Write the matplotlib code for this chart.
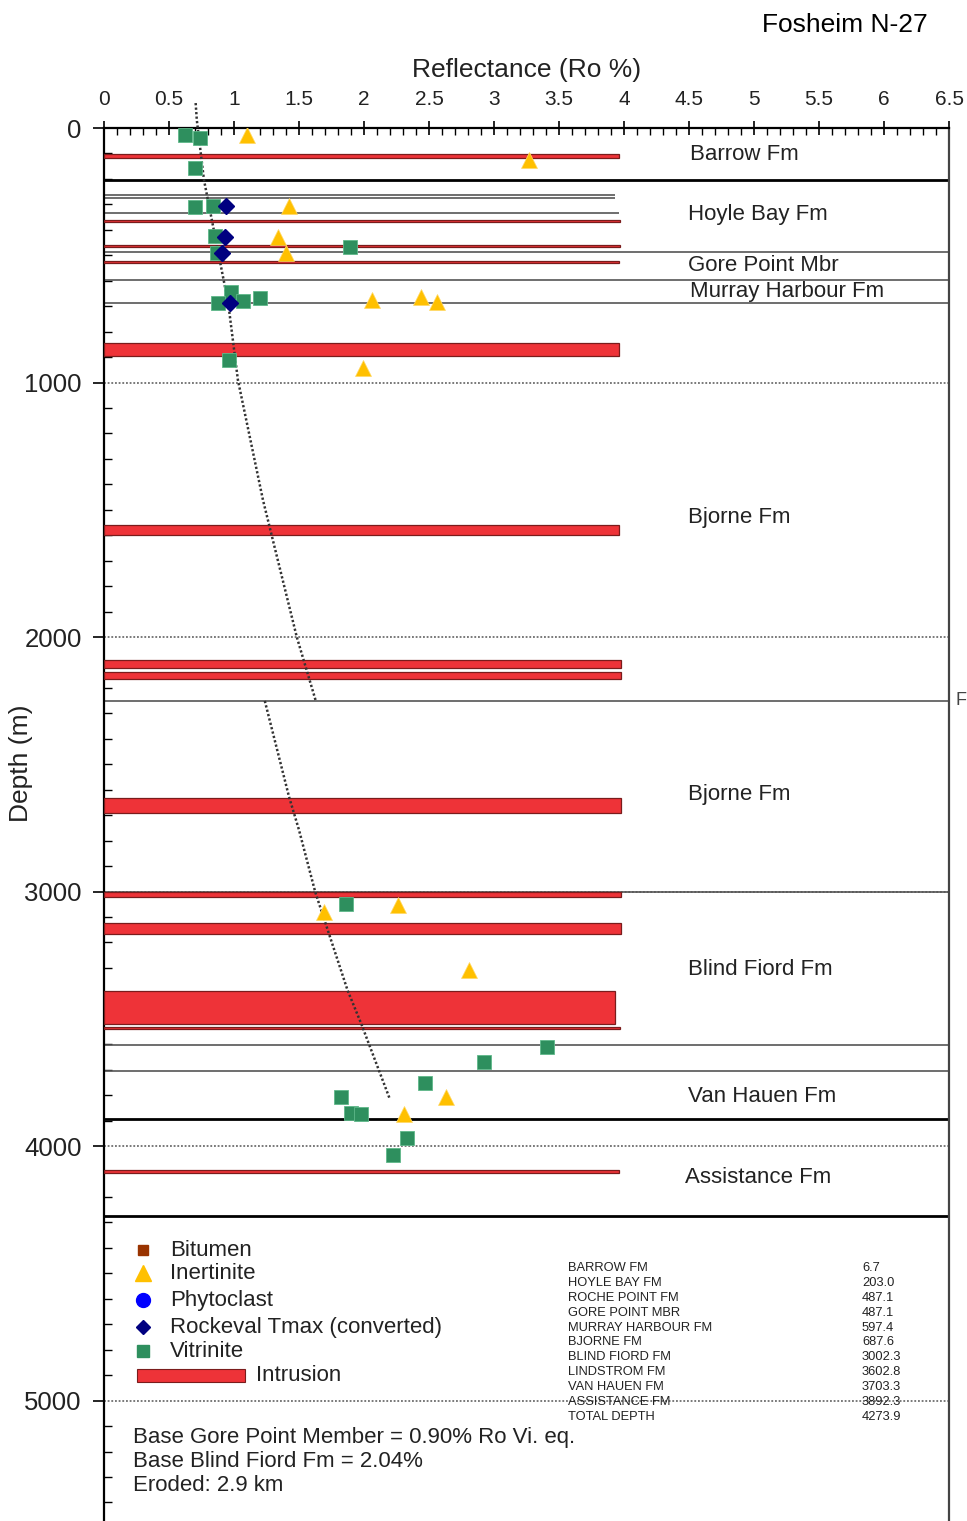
#!/usr/bin/env python3
"""Fosheim N-27 reflectance vs depth profile."""
import matplotlib
matplotlib.use("Agg")
import matplotlib.pyplot as plt
from matplotlib.patches import Rectangle
import numpy as np

plt.rcParams["font.family"] = ["Liberation Sans", "DejaVu Sans"]

# ── colours ──────────────────────────────────────────────────────────────────
VIT_C   = "#2e8f5e"
INE_C   = "#ffc000"
RKV_C   = "#000080"
PHY_C   = "#0000ff"
BIT_C   = "#993300"
RED     = "#ee3338"
RED_EDGE = "#7a1c1c"
CONTACT = "#555555"
TEXT    = "#222222"

# ── data ─────────────────────────────────────────────────────────────────────
VIT_RO    = [0.62, 0.74, 0.70, 0.70, 0.84, 0.85, 0.87, 1.89, 0.98, 1.20, 0.88, 1.07, 0.96,
             1.86, 3.41, 2.92, 2.47, 1.82, 1.90, 1.98, 2.33, 2.22]
VIT_DEPTH = [27, 41, 158, 312, 305, 426, 490, 466, 643, 667, 688, 678, 912,
             3047, 3612, 3671, 3754, 3809, 3869, 3872, 3970, 4035]

INE_RO    = [1.10, 3.27, 1.42, 1.34, 1.40, 2.06, 2.44, 2.56, 1.99,
             1.69, 2.26, 2.81, 2.63, 2.31]
INE_DEPTH = [27, 126, 306, 427, 490, 676, 663, 682, 944,
             3079, 3053, 3308, 3809, 3872]

RKV_RO    = [0.94, 0.93, 0.91, 0.97]
RKV_DEPTH = [306, 427, 490, 686]

# trend line, split at the fault
TREND_UP_RO    = [0.705, 0.714, 0.769, 0.879, 0.956, 1.03, 1.223, 1.483, 1.628]
TREND_UP_DEPTH = [-98, -31, 204, 490, 690, 990, 1462, 2000, 2249]
TREND_LO_RO    = [1.237, 1.423, 1.50, 1.625, 1.873, 1.98, 2.197]
TREND_LO_DEPTH = [2251, 2627, 2758, 3002, 3387, 3521, 3813]

# intrusions: top, base, right end (Ro)
INTR_TOP   = [102, 361, 459, 524, 846, 1560, 2090, 2139, 2631, 3000, 3122, 3391, 3533, 4092]
INTR_BASE  = [119, 368, 466, 531, 896, 1601, 2123, 2166, 2690, 3020, 3167, 3521, 3541, 4104]
INTR_RIGHT = [3.96, 3.97, 3.97, 3.96, 3.96, 3.96, 3.98, 3.98, 3.98, 3.98, 3.98, 3.93, 3.97, 3.96]

# formation contacts drawn across the whole track
HEAVY_CONTACTS = [203.0, 3892.3, 4273.9]
LIGHT_CONTACTS = [487.1, 597.4, 687.6, 2251, 3002.3, 3602.8, 3703.3]
# short contacts inside the Hoyle Bay interval: depth, right end
SHORT_DEPTH = [263, 276, 333]
SHORT_RIGHT = [3.93, 3.93, 3.96]
FAULT_DEPTH = 2251

FM_NAMES  = ["Barrow Fm", "Hoyle Bay Fm", "Gore Point Mbr", "Murray Harbour Fm",
             "Bjorne Fm", "Bjorne Fm", "Blind Fiord Fm", "Van Hauen Fm", "Assistance Fm"]
FM_DEPTH  = [106, 338, 542, 644, 1532, 2617, 3308, 3807, 4122]
FM_X      = [4.51, 4.49, 4.49, 4.51, 4.49, 4.49, 4.49, 4.49, 4.47]

TOPS_NAMES  = ["BARROW FM", "HOYLE BAY FM", "ROCHE POINT FM", "GORE POINT MBR",
               "MURRAY HARBOUR FM", "BJORNE FM", "BLIND FIORD FM", "LINDSTROM FM",
               "VAN HAUEN FM", "ASSISTANCE FM", "TOTAL DEPTH"]
TOPS_VALUES = ["6.7", "203.0", "487.1", "487.1", "597.4", "687.6", "3002.3",
               "3602.8", "3703.3", "3892.3", "4273.9"]

NOTES = ["Base Gore Point Member = 0.90% Ro Vi. eq.",
         "Base Blind Fiord Fm = 2.04%",
         "Eroded: 2.9 km"]

X_TICKS  = [0, 0.5, 1, 1.5, 2, 2.5, 3, 3.5, 4, 4.5, 5, 5.5, 6, 6.5]
X_LABELS = ["0", "0.5", "1", "1.5", "2", "2.5", "3", "3.5", "4", "4.5", "5", "5.5", "6", "6.5"]
Y_TICKS  = [0, 1000, 2000, 3000, 4000, 5000]

# ── figure ───────────────────────────────────────────────────────────────────
fig = plt.figure(figsize=(9.67, 15.21), dpi=100)
ax = fig.add_axes([104 / 967, 0, 845 / 967, 1393 / 1521])
ax.set_xlim(0, 6.5)
ax.set_ylim(5473, 0)

# dotted depth grid
for d in Y_TICKS[1:]:
    ax.axhline(d, color="#555555", lw=1.1, ls=(0, (1.2, 1.2)), zorder=1)

# contacts
for d in HEAVY_CONTACTS:
    ax.axhline(d, color="black", lw=2.0, zorder=2)
for d in LIGHT_CONTACTS:
    ax.axhline(d, color=CONTACT, lw=1.2, zorder=2)
ax.hlines(SHORT_DEPTH, 0, SHORT_RIGHT, color=CONTACT, lw=1.2, zorder=2)

# intrusions
centres = [(t + b) / 2 for t, b in zip(INTR_TOP, INTR_BASE)]
heights = [b - t for t, b in zip(INTR_TOP, INTR_BASE)]
ax.barh(centres, INTR_RIGHT, height=heights, left=0, color=RED,
        edgecolor=RED_EDGE, linewidth=0.9, zorder=3)

# trend lines
for xs, ys in [(TREND_UP_RO, TREND_UP_DEPTH), (TREND_LO_RO, TREND_LO_DEPTH)]:
    ax.plot(xs, ys, color="#333333", lw=1.8, ls=(0, (0.9, 0.9)), zorder=4, clip_on=False)

# samples
ax.plot(VIT_RO, VIT_DEPTH, "s", color=VIT_C, ms=9.5, mec="#5fb88a", mew=0.6, zorder=5)
ax.plot(INE_RO, INE_DEPTH, "^", color=INE_C, ms=11, mec="#ffd966", mew=0.5, zorder=5)
ax.plot(RKV_RO, RKV_DEPTH, "D", color=RKV_C, ms=8, zorder=5)

# formation names
for name, d, x in zip(FM_NAMES, FM_DEPTH, FM_X):
    ax.text(x, d, name, fontsize=16, color=TEXT, ha="left", va="center", zorder=6)
ax.text(6.55, FAULT_DEPTH, "F", fontsize=13, color="#444444", ha="left", va="center")

# ── axes styling ─────────────────────────────────────────────────────────────
ax.xaxis.tick_top()
ax.xaxis.set_label_position("top")
ax.set_xticks(X_TICKS)
ax.set_xticklabels(X_LABELS, fontsize=15, color=TEXT)
ax.set_xticks(np.arange(0, 6.51, 0.1), minor=True)
ax.tick_params(axis="x", which="major", direction="inout", length=10, width=1.2, pad=9)
ax.tick_params(axis="x", which="minor", direction="in", length=5, width=1.0)
ax.set_xlabel("Reflectance (Ro %)", fontsize=19, color=TEXT, labelpad=9)

ax.set_yticks(Y_TICKS)
ax.set_yticklabels([str(t) for t in Y_TICKS], fontsize=18.5, color=TEXT)
ax.set_yticks(np.arange(0, 5401, 100), minor=True)
ax.tick_params(axis="y", which="major", direction="out", length=8, width=1.2, pad=8)
ax.tick_params(axis="y", which="minor", direction="in", length=6, width=1.0)
ax.set_ylabel("Depth (m)", fontsize=19, color=TEXT)
ax.yaxis.set_label_coords(-0.084, 0.544)

ax.spines["bottom"].set_visible(False)
ax.spines["left"].set_linewidth(1.6)
ax.spines["top"].set_linewidth(1.6)
ax.spines["right"].set_linewidth(1.6)
ax.spines["right"].set_color("#444444")

# ── legend (inside the track) ────────────────────────────────────────────────
LEG_X, LEG_TX = 0.30, 0.51
leg_rows = [("s", BIT_C, 7, "Bitumen", 4409),
            ("^", INE_C, 11, "Inertinite", 4499),
            ("o", PHY_C, 10, "Phytoclast", 4605),
            ("D", RKV_C, 7.5, "Rockeval Tmax (converted)", 4711),
            ("s", VIT_C, 8, "Vitrinite", 4806)]
for m, c, s, lab, d in leg_rows:
    ax.plot([LEG_X], [d], m, color=c, ms=s, zorder=6)
    ax.text(LEG_TX, d, lab, fontsize=16, color=TEXT, ha="left", va="center", zorder=6)
ax.add_patch(Rectangle((0.254, 4875), 0.83, 50, facecolor=RED,
                       edgecolor=RED_EDGE, lw=0.8, zorder=6))
ax.text(1.17, 4900, "Intrusion", fontsize=16, color=TEXT, ha="left", va="center", zorder=6)

# formation tops table
for i, (n, v) in enumerate(zip(TOPS_NAMES, TOPS_VALUES)):
    d = 4479 + i * 58.5
    ax.text(3.57, d, n, fontsize=9.3, color=TEXT, ha="left", va="center", zorder=6)
    ax.text(5.83, d, v, fontsize=9.3, color=TEXT, ha="left", va="center", zorder=6)

for i, line in enumerate(NOTES):
    ax.text(0.223, 5143 + i * 96, line, fontsize=16, color=TEXT,
            ha="left", va="center", zorder=6)

fig.text(0.874, 0.9836, "Fosheim N-27", fontsize=19, color="black",
         ha="center", va="center")

fig.savefig("out.png", dpi=100, facecolor="white")
